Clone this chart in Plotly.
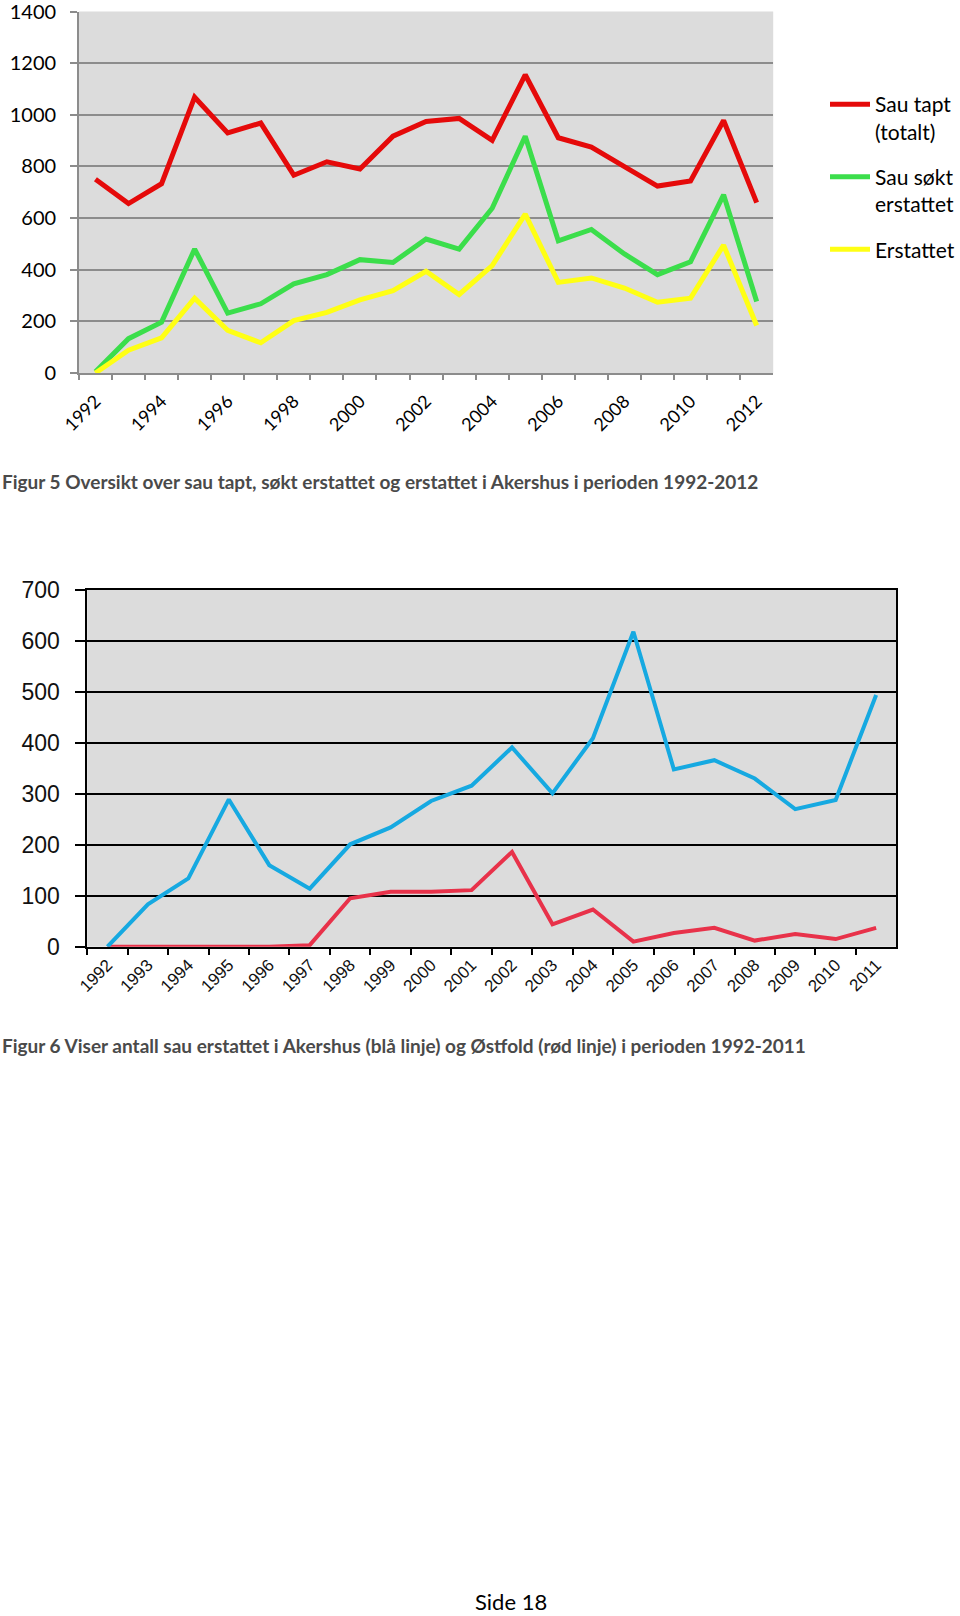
import plotly.graph_objects as go

# ---------- Figure 5 data (Akershus) ----------
years5 = [str(y) for y in range(1992, 2013)]
sau_tapt = [750, 656, 733, 1068, 930, 968, 766, 818, 790, 917, 974, 986, 901, 1155, 911, 875, 799, 724, 744, 978, 660]
sau_sokt = [5, 133, 197, 480, 232, 268, 345, 381, 439, 428, 519, 480, 638, 917, 512, 556, 461, 381, 431, 690, 277]
erstattet = [0, 88, 136, 290, 165, 117, 203, 235, 283, 319, 394, 304, 416, 615, 351, 368, 329, 274, 290, 495, 184]
ticktext5 = ["1992", "", "1994", "", "1996", "", "1998", "", "2000", "", "2002", "", "2004", "",
             "2006", "", "2008", "", "2010", "", "2012"]

# ---------- Figure 6 data ----------
years6 = [str(y) for y in range(1992, 2012)]
akershus = [0, 83, 134, 289, 160, 114, 201, 234, 286, 316, 391, 301, 409, 618, 348, 366, 330, 270, 288, 494]
ostfold = [0, 0, 0, 0, 0, 3, 95, 108, 108, 111, 186, 44, 73, 10, 27, 37, 12, 25, 15, 37]

W, H = 960, 1616
def px(x):
    return x / W
def py(y):
    return 1 - y / H

fig = go.Figure()

# Figure 5 traces
fig.add_trace(go.Scatter(x=years5, y=sau_tapt, mode="lines", name="Sau tapt<br>(totalt)",
                         line=dict(color="#E50A0A", width=5), xaxis="x", yaxis="y", legendgroup="a"))
fig.add_trace(go.Scatter(x=years5, y=sau_sokt, mode="lines", name="Sau søkt<br>erstattet",
                         line=dict(color="#3BDE4B", width=5), xaxis="x", yaxis="y", legendgroup="b"))
fig.add_trace(go.Scatter(x=years5, y=erstattet, mode="lines", name="Erstattet",
                         line=dict(color="#FFFF14", width=5), xaxis="x", yaxis="y", legendgroup="c"))

# Figure 6 traces
fig.add_trace(go.Scatter(x=years6, y=ostfold, mode="lines", name="Østfold",
                         line=dict(color="#E8324A", width=4), xaxis="x2", yaxis="y2", showlegend=False))
fig.add_trace(go.Scatter(x=years6, y=akershus, mode="lines", name="Akershus",
                         line=dict(color="#16A9E1", width=4), xaxis="x2", yaxis="y2", showlegend=False))

calibri = "Lato, 'Open Sans', sans-serif"
arial = "'Liberation Sans', Arial, sans-serif"

fig.update_layout(
    template="none",
    width=W, height=H,
    margin=dict(l=0, r=0, t=0, b=0),
    paper_bgcolor="white",
    plot_bgcolor="#DCDCDC",
    showlegend=True,
    legend=dict(x=px(826), y=py(84), xanchor="left", yanchor="top",
                font=dict(family=calibri, size=21, color="black"),
                bgcolor="rgba(0,0,0,0)", tracegroupgap=15, valign="top",
                itemwidth=40),
    xaxis=dict(domain=[px(79), px(774)], anchor="y", type="category",
               range=[-0.5, 20.5], tickmode="array", tickvals=years5, ticktext=ticktext5,
               tickson="boundaries", ticks="outside", ticklen=5, tickcolor="#8C8C8C", tickwidth=1.5,
               showline=True, linecolor="#8C8C8C", linewidth=1.5, showgrid=False, zeroline=False,
               tickangle=-45, tickfont=dict(family=calibri, size=18, color="black"),
               ticklabelstandoff=9, automargin=False),
    yaxis=dict(domain=[py(373), py(11.5)], anchor="x", range=[0, 1400], dtick=200, tick0=0,
               ticks="outside", ticklen=7, tickcolor="#8C8C8C", tickwidth=1.5,
               showline=True, linecolor="#8C8C8C", linewidth=1.5,
               showgrid=True, gridcolor="#8C8C8C", gridwidth=1.5, zeroline=False,
               tickfont=dict(family=calibri, size=20, color="black"),
               ticklabelstandoff=10, ticklabeloverflow="allow", automargin=False),
    xaxis2=dict(domain=[px(87.3), px(897.3)], anchor="y2", type="category",
                range=[-0.5, 19.5], tickmode="array", tickvals=years6, ticktext=years6,
                tickson="boundaries", ticks="outside", ticklen=7, tickcolor="black", tickwidth=1.5,
                showline=True, mirror=True, linecolor="black", linewidth=1.5, showgrid=False,
                zeroline=False, tickangle=-45,
                tickfont=dict(family=arial, size=17, color="#111111"), automargin=False),
    yaxis2=dict(domain=[py(946.7), py(590)], anchor="x2", range=[0, 700], dtick=100, tick0=0,
                ticks="outside", ticklen=10, tickcolor="black", tickwidth=1.5,
                showline=True, mirror=True, linecolor="black", linewidth=1.5,
                showgrid=True, gridcolor="black", gridwidth=1.5, zeroline=False,
                tickfont=dict(family=arial, size=23, color="#111111"),
                ticklabelstandoff=11, ticklabeloverflow="allow", automargin=False),
)

fig.add_annotation(text="Figur 5 Oversikt over sau tapt, søkt erstattet og erstattet i Akershus i perioden 1992-2012",
                   xref="paper", yref="paper", x=0, y=py(482), xanchor="left", yanchor="middle",
                   showarrow=False, font=dict(family=calibri, size=19, color="#4A4A4A", weight="bold"))
fig.add_annotation(text="Figur 6 Viser antall sau erstattet i Akershus (blå linje) og Østfold (rød linje) i perioden 1992-2011",
                   xref="paper", yref="paper", x=0, y=py(1045), xanchor="left", yanchor="middle",
                   showarrow=False, font=dict(family=calibri, size=19, color="#4A4A4A", weight="bold"))
fig.add_annotation(text="Side 18", xref="paper", yref="paper", x=px(512), y=py(1601),
                   xanchor="center", yanchor="middle", showarrow=False,
                   font=dict(family=calibri, size=22, color="black"))

fig.write_html("out.html")
